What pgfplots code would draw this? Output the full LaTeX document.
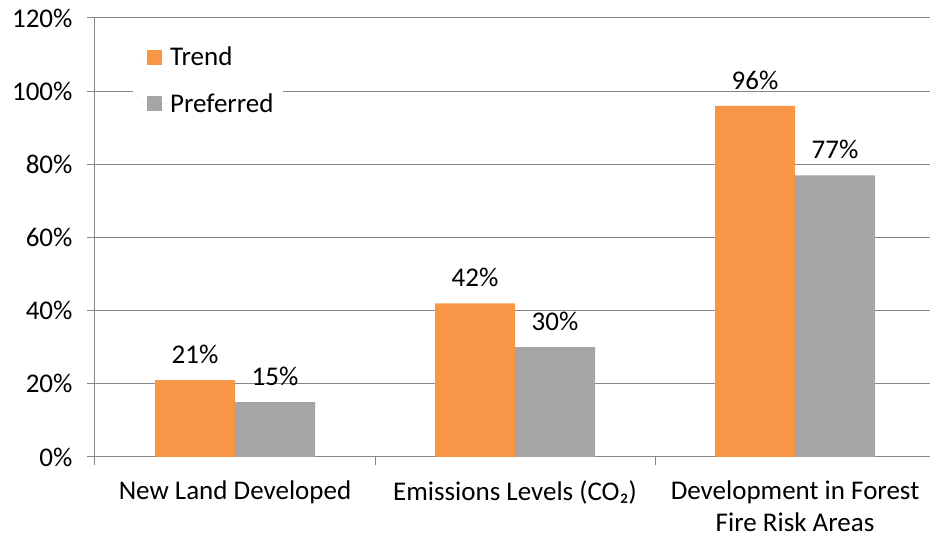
\documentclass[border=0pt]{standalone}
\usepackage{pgfplots}
\pgfplotsset{compat=1.18}
\usepackage{fontspec}
\setmainfont{Carlito}
\definecolor{trend}{HTML}{F79646}
\definecolor{pref}{HTML}{A5A5A5}
\definecolor{gridc}{HTML}{868686}
\begin{document}
\begin{tikzpicture}
\begin{axis}[
  name=ax,
  scale only axis,
  width=835pt, height=439pt,
  xmin=-0.5, xmax=2.482,
  ymin=0, ymax=120,
  ybar=0pt, bar width=80pt,
  axis x line*=bottom, axis y line*=left,
  axis line style={gridc, line width=1pt},
  ytick={0,20,...,120},
  yticklabel={\pgfmathprintnumber{\tick}\%},
  ymajorgrids, grid style={gridc, line width=1pt},
  major tick length=8pt,
  tick style={gridc, line width=1pt},
  y tick style={gridc}, ytick pos=left,
  yticklabel style={xshift=-11pt},
  xtick={-0.5,0.5,1.5,2.5}, xticklabels={},
  x tick style={gridc},
  xtick pos=bottom,
  tick align=outside,
  extra x ticks={0,1,2},
  extra x tick labels={New Land Developed, Emissions Levels (CO₂), {Development in Forest\\Fire Risk Areas}},
  extra x tick style={major tick length=0pt, grid=none, xticklabel style={align=center, yshift=-20pt, text depth=0pt}},
  /pgf/number format/assume math mode=true,
  tick label style={font=\fontsize{27}{32}\selectfont, black},
  nodes near coords={\pgfmathprintnumber{\pgfplotspointmeta}\%},
  nodes near coords style={font=\fontsize{27}{31}\selectfont, black, yshift=13pt},
  legend style={at={(38pt,416pt)}, anchor=north west, draw=none, fill=white,
    font=\fontsize{27}{31}\selectfont, row sep=22pt, inner xsep=8pt, inner ysep=4pt},
  legend image code/.code={\fill[#1] (6pt,-7.5pt) rectangle (21pt,7.5pt); \path (0pt,0pt) -- (27pt,0pt);},
  legend cell align=left,
  clip=false,
]
\addplot[fill=trend, draw=none] coordinates {(0,21) (1,42) (2,96)};
\addplot[fill=pref, draw=none] coordinates {(0,15) (1,30) (2,77)};
\legend{Trend, Preferred\hspace{14pt}}
\end{axis}
\pgfresetboundingbox
\path ([shift={(-95pt,-81pt)}]ax.south west) rectangle ([shift={(835pt,457pt)}]ax.south west);
\end{tikzpicture}
\end{document}
